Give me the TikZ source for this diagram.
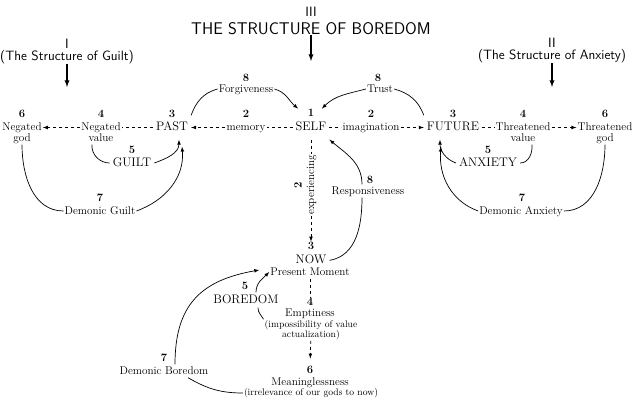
\documentclass[tikz,border=0pt]{standalone}
\usepackage{fontspec}
\begin{document}
\begin{tikzpicture}[x=1pt,y=1pt,>=latex,
  big/.style={font=\fontsize{12.4}{14}\selectfont, text height=8.5pt, text depth=2.5pt, inner xsep=3pt, inner ysep=6.5pt},
  lbl/.style={font=\fontsize{11.2}{12}\selectfont, text height=8.5pt, text depth=2.5pt, inner sep=1pt},
  num/.style={font=\fontsize{11.2}{12}\selectfont\bfseries, inner sep=0.5pt},
  note/.style={font=\fontsize{9.6}{9.6}\selectfont, align=center, inner sep=1pt},
  head/.style={font=\fontsize{13.5}{15}\selectfont\sffamily, inner sep=0pt},
  link/.style={line width=0.7pt},
  dlink/.style={line width=0.7pt, dashed},
  drop/.style={line width=1.3pt, ->}]
\useasboundingbox (0,0) rectangle (635,400);

\node [head] (t3num) at (311,388.5) {III};
\node [head, font=\fontsize{16.9}{18}\selectfont\sffamily] (t3) at (311,371) {THE STRUCTURE OF BOREDOM};
\node [head] (t1num) at (67,356.5) {I};
\node [head] (t1) at (67,343) {(The Structure of Guilt)};
\node [head] (t2num) at (552,357.5) {II};
\node [head] (t2) at (552,344) {(The Structure of Anxiety)};
\coordinate (t3end) at (311,339);
\coordinate (t1end) at (67,313);
\coordinate (t2end) at (552,313);
\draw [drop] (t3) -- (t3end);
\draw [drop] (t1) -- (t1end);
\draw [drop] (t2) -- (t2end);

\node [num] (n-ngod) at (22,286) {6};
\node [lbl] (ngod) at (22,272.5) {Negated};
\node [lbl] (ngod2) at (22,262) {god};
\node [num] (n-nval) at (101,286) {4};
\node [lbl] (nval) at (101,272.5) {Negated};
\node [lbl] (nval2) at (101,262) {value};
\node [num] (n-past) at (172,286) {3};
\node [big] (past) at (172,272.5) {PAST};
\node [num] (n-mem) at (246,286) {2};
\node [lbl] (mem) at (246,272.5) {memory};
\node [num] (n-self) at (311,287) {1};
\node [big] (self) at (311,272.5) {SELF};
\node [num] (n-imag) at (371,286) {2};
\node [lbl] (imag) at (371,272.5) {imagination};
\node [num] (n-fut) at (453,286) {3};
\node [big] (fut) at (453,272.5) {FUTURE};
\node [num] (n-tval) at (523,286) {4};
\node [lbl] (tval) at (523,272.5) {Threatened};
\node [lbl] (tval2) at (523,262) {value};
\node [num] (n-tgod) at (605,286) {6};
\node [lbl] (tgod) at (605,272.5) {Threatened};
\node [lbl] (tgod2) at (605,262) {god};

\node [num] (n-forg) at (246,322) {8};
\node [lbl] (forg) at (246,311) {Forgiveness};
\node [num] (n-trust) at (378,322) {8};
\node [lbl] (trust) at (380,311) {Trust};

\node [num] (n-guilt) at (132,250) {5};
\node [big] (guilt) at (132,237) {GUILT};
\node [num] (n-dguilt) at (100,202) {7};
\node [lbl] (dguilt) at (100,189) {Demonic Guilt};
\node [num] (n-anx) at (488,250) {5};
\node [big] (anx) at (488,237) {ANXIETY};
\node [num] (n-danx) at (522,202) {7};
\node [lbl] (danx) at (521,189) {Demonic Anxiety};

\node [num, rotate=90] (n-exper) at (298,215) {2};
\node [lbl, rotate=90] (exper) at (311,215) {experiencing};
\node [num] (n-resp) at (370,220) {8};
\node [lbl] (resp) at (368,209) {Responsiveness};

\node [num] (n-now) at (311,154) {3};
\node [big] (now) at (311,139.6) {NOW};
\node [lbl] (pm) at (310,128) {Present Moment};
\node [num] (n-bored) at (245,114) {5};
\node [big, inner ysep=2pt] (bored) at (246,100) {BOREDOM};
\node [num] (n-empt) at (310,98) {4};
\node [lbl] (empt) at (310,87) {Emptiness};
\node [note] (imposs) at (311,70) {(impossibility of value\\actualization)};
\node [num] (n-mean) at (310,30) {6};
\node [lbl] (mean) at (310,18) {Meaninglessness};
\node [note] (irrel) at (311,7) {(irrelevance of our gods to now)};
\node [num] (n-dbored) at (164,42) {7};
\node [lbl] (dbored) at (164,29) {Demonic Boredom};

\draw [dlink] (self) -- (mem);
\draw [dlink, ->] (mem) -- (past);
\draw [dlink] (past) -- (nval);
\draw [dlink, ->] (nval) -- (ngod);
\draw [dlink] (self) -- (imag);
\draw [dlink, ->] (imag) -- (fut);
\draw [dlink] (fut) -- (tval);
\draw [dlink, ->] (tval) -- (tgod);
\draw [dlink] (self) -- (exper);
\draw [dlink, ->] (exper) -- (n-now);
\draw [dlink] (pm) -- (n-empt);
\draw [dlink, ->, shorten >=7pt] (imposs) -- (n-mean);

\draw [link] (past.north east) to[out=70,in=195] (forg.west);
\draw [link, ->] (forg.east) to[out=-15,in=140] ([xshift=-9pt]n-self.north west);
\draw [link] (fut.north west) to[out=110,in=-15] (trust.east);
\draw [link, ->] (trust.west) to[out=195,in=45] ([xshift=7pt]n-self.north east);
\draw [link] (now.east) to[out=10,in=-90] ([xshift=-6pt]resp.south);
\draw [link, ->] ([xshift=-6pt]resp.north) to[out=90,in=-40] (self.south east);

\draw [link] ([xshift=-9pt]nval2.south) to[out=-95,in=180] (guilt.west);
\draw [link, ->] (guilt.east) to[out=20,in=-90] ([xshift=7pt]past.south);
\draw [link] (ngod2.south) to[out=-90,in=180] (dguilt.west);
\draw [link, ->] (dguilt.east) to[out=20,in=-85] ([xshift=10pt,yshift=-7pt]past.south);

\draw [link] ([xshift=9pt]tval2.south) to[out=-85,in=0] (anx.east);
\draw [link, ->] (anx.west) to[out=160,in=-90] ([xshift=-13pt]fut.south);
\draw [link] (tgod2.south) to[out=-90,in=0] (danx.east);
\draw [link, ->] (danx.west) to[out=160,in=-95] ([xshift=-12pt,yshift=-7pt]fut.south);

\draw [link] (imposs.north west) to[out=120,in=-90] ([xshift=12pt]bored.south);
\draw [link, ->] ([xshift=10pt]bored.north) to[out=90,in=225] (pm.west);
\draw [link] (irrel.west) to[out=180,in=-30] ([xshift=24pt]dbored.south);
\draw [link, ->] ([xshift=11pt]dbored.north) to[out=90,in=190,looseness=1.2] ([xshift=-10pt,yshift=2pt]pm.west);
\end{tikzpicture}
\end{document}
